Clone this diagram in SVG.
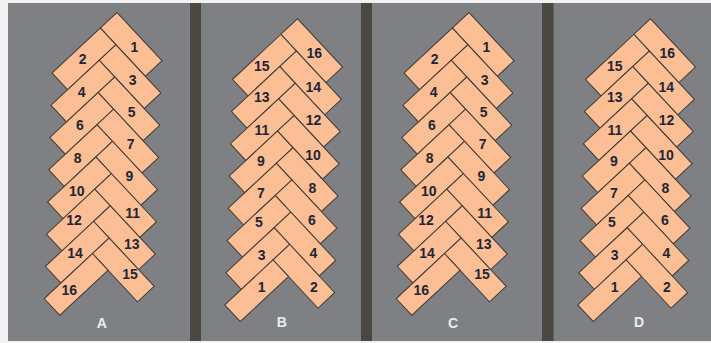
<svg xmlns="http://www.w3.org/2000/svg" xmlns:xlink="http://www.w3.org/1999/xlink" width="711" height="343" viewBox="0 0 711 343">
<style>
.bg{fill:#f2f2f2}
.panel{fill:#7f8083}
.div{fill:#4b4741}
.brick{fill:#fcbe94;stroke:#3f3b37;stroke-width:1}
.n{font-family:"Liberation Sans",Arial,sans-serif;font-weight:bold;font-size:14px;fill:#1f2635;text-anchor:middle}
.cap{font-family:"Liberation Sans",Arial,sans-serif;font-weight:bold;font-size:14px;fill:#e8eef4;text-anchor:middle}
</style>
<defs>
<rect id="br" class="brick" width="66" height="22.8"/>
<rect id="bl" class="brick" width="22.8" height="66"/>
</defs>
<rect class="bg" x="0" y="0" width="711" height="343"/>
<rect class="panel" x="8" y="3" width="703" height="338"/>
<rect class="div" x="190" y="3" width="11" height="338"/>
<rect class="div" x="361" y="3" width="11" height="338"/>
<rect class="div" x="542" y="3" width="11.5" height="338"/>

<g id="panel-A" transform="translate(117,12.5)">
<g id="A-1"><use href="#br" transform="translate(0,0) rotate(47)"/><text class="n" x="17.3" y="39.8">1</text></g>
<g id="A-2"><use href="#bl" transform="translate(-16.67,15.55) rotate(47)"/><text class="n" x="-34.3" y="51.5">2</text></g>
<g id="A-3"><use href="#br" transform="translate(-1.12,32.22) rotate(47)"/><text class="n" x="15.7" y="72.5">3</text></g>
<g id="A-4"><use href="#bl" transform="translate(-17.79,47.77) rotate(47)"/><text class="n" x="-35.3" y="84.2">4</text></g>
<g id="A-5"><use href="#br" transform="translate(-2.24,64.44) rotate(47)"/><text class="n" x="14.7" y="104">5</text></g>
<g id="A-6"><use href="#bl" transform="translate(-18.91,79.99) rotate(47)"/><text class="n" x="-37" y="117.5">6</text></g>
<g id="A-7"><use href="#br" transform="translate(-3.36,96.66) rotate(47)"/><text class="n" x="13.7" y="136.5">7</text></g>
<g id="A-8"><use href="#bl" transform="translate(-20.03,112.21) rotate(47)"/><text class="n" x="-39.3" y="150.5">8</text></g>
<g id="A-9"><use href="#br" transform="translate(-4.48,128.88) rotate(47)"/><text class="n" x="12.3" y="168.5">9</text></g>
<g id="A-10"><use href="#bl" transform="translate(-21.15,144.43) rotate(47)"/><text class="n" x="-40.3" y="183.2">10</text></g>
<g id="A-11"><use href="#br" transform="translate(-5.6,161.1) rotate(47)"/><text class="n" x="15.7" y="205">11</text></g>
<g id="A-12"><use href="#bl" transform="translate(-22.27,176.65) rotate(47)"/><text class="n" x="-43" y="212.5">12</text></g>
<g id="A-13"><use href="#br" transform="translate(-6.72,193.32) rotate(47)"/><text class="n" x="14.7" y="236.5">13</text></g>
<g id="A-14"><use href="#bl" transform="translate(-23.39,208.87) rotate(47)"/><text class="n" x="-42" y="245">14</text></g>
<g id="A-15"><use href="#br" transform="translate(-7.84,225.54) rotate(47)"/><text class="n" x="13" y="266.5">15</text></g>
<g id="A-16"><use href="#bl" transform="translate(-24.51,241.09) rotate(47)"/><text class="n" x="-47.7" y="282.5">16</text></g>
</g>

<g id="panel-B" transform="translate(297.5,18.8)">
<g id="B-16"><use href="#br" transform="translate(0,0) rotate(47)"/><text class="n" x="16.8" y="39.5">16</text></g>
<g id="B-15"><use href="#bl" transform="translate(-16.67,15.55) rotate(47)"/><text class="n" x="-35.8" y="52.2">15</text></g>
<g id="B-14"><use href="#br" transform="translate(-1.12,32.22) rotate(47)"/><text class="n" x="15.8" y="73.5">14</text></g>
<g id="B-13"><use href="#bl" transform="translate(-17.79,47.77) rotate(47)"/><text class="n" x="-35.8" y="82.9">13</text></g>
<g id="B-12"><use href="#br" transform="translate(-2.24,64.44) rotate(47)"/><text class="n" x="16" y="106.2">12</text></g>
<g id="B-11"><use href="#bl" transform="translate(-18.91,79.99) rotate(47)"/><text class="n" x="-35.5" y="116.2">11</text></g>
<g id="B-10"><use href="#br" transform="translate(-3.36,96.66) rotate(47)"/><text class="n" x="15.5" y="141.2">10</text></g>
<g id="B-9"><use href="#bl" transform="translate(-20.03,112.21) rotate(47)"/><text class="n" x="-36.5" y="147.2">9</text></g>
<g id="B-8"><use href="#br" transform="translate(-4.48,128.88) rotate(47)"/><text class="n" x="15" y="174.2">8</text></g>
<g id="B-7"><use href="#bl" transform="translate(-21.15,144.43) rotate(47)"/><text class="n" x="-36.5" y="179.2">7</text></g>
<g id="B-6"><use href="#br" transform="translate(-5.6,161.1) rotate(47)"/><text class="n" x="14.5" y="206.2">6</text></g>
<g id="B-5"><use href="#bl" transform="translate(-22.27,176.65) rotate(47)"/><text class="n" x="-38.5" y="208.2">5</text></g>
<g id="B-4"><use href="#br" transform="translate(-6.72,193.32) rotate(47)"/><text class="n" x="15.8" y="239.5">4</text></g>
<g id="B-3"><use href="#bl" transform="translate(-23.39,208.87) rotate(47)"/><text class="n" x="-35.8" y="241.2">3</text></g>
<g id="B-2"><use href="#br" transform="translate(-7.84,225.54) rotate(47)"/><text class="n" x="16.5" y="273.5">2</text></g>
<g id="B-1"><use href="#bl" transform="translate(-24.51,241.09) rotate(47)"/><text class="n" x="-35.8" y="272.9">1</text></g>
</g>

<g id="panel-C" transform="translate(469,12.5)">
<g id="C-1"><use href="#br" transform="translate(0,0) rotate(47)"/><text class="n" x="17.3" y="39.8">1</text></g>
<g id="C-2"><use href="#bl" transform="translate(-16.67,15.55) rotate(47)"/><text class="n" x="-34.3" y="51.5">2</text></g>
<g id="C-3"><use href="#br" transform="translate(-1.12,32.22) rotate(47)"/><text class="n" x="15.7" y="72.5">3</text></g>
<g id="C-4"><use href="#bl" transform="translate(-17.79,47.77) rotate(47)"/><text class="n" x="-35.3" y="84.2">4</text></g>
<g id="C-5"><use href="#br" transform="translate(-2.24,64.44) rotate(47)"/><text class="n" x="14.7" y="104">5</text></g>
<g id="C-6"><use href="#bl" transform="translate(-18.91,79.99) rotate(47)"/><text class="n" x="-37" y="117.5">6</text></g>
<g id="C-7"><use href="#br" transform="translate(-3.36,96.66) rotate(47)"/><text class="n" x="13.7" y="136.5">7</text></g>
<g id="C-8"><use href="#bl" transform="translate(-20.03,112.21) rotate(47)"/><text class="n" x="-39.3" y="150.5">8</text></g>
<g id="C-9"><use href="#br" transform="translate(-4.48,128.88) rotate(47)"/><text class="n" x="12.3" y="168.5">9</text></g>
<g id="C-10"><use href="#bl" transform="translate(-21.15,144.43) rotate(47)"/><text class="n" x="-40.3" y="183.2">10</text></g>
<g id="C-11"><use href="#br" transform="translate(-5.6,161.1) rotate(47)"/><text class="n" x="15.7" y="205">11</text></g>
<g id="C-12"><use href="#bl" transform="translate(-22.27,176.65) rotate(47)"/><text class="n" x="-43" y="212.5">12</text></g>
<g id="C-13"><use href="#br" transform="translate(-6.72,193.32) rotate(47)"/><text class="n" x="14.7" y="236.5">13</text></g>
<g id="C-14"><use href="#bl" transform="translate(-23.39,208.87) rotate(47)"/><text class="n" x="-42" y="245">14</text></g>
<g id="C-15"><use href="#br" transform="translate(-7.84,225.54) rotate(47)"/><text class="n" x="13" y="266.5">15</text></g>
<g id="C-16"><use href="#bl" transform="translate(-24.51,241.09) rotate(47)"/><text class="n" x="-47.7" y="282.5">16</text></g>
</g>

<g id="panel-D" transform="translate(650.5,18.8)">
<g id="D-16"><use href="#br" transform="translate(0,0) rotate(47)"/><text class="n" x="16.8" y="39.5">16</text></g>
<g id="D-15"><use href="#bl" transform="translate(-16.67,15.55) rotate(47)"/><text class="n" x="-35.8" y="52.2">15</text></g>
<g id="D-14"><use href="#br" transform="translate(-1.12,32.22) rotate(47)"/><text class="n" x="15.8" y="73.5">14</text></g>
<g id="D-13"><use href="#bl" transform="translate(-17.79,47.77) rotate(47)"/><text class="n" x="-35.8" y="82.9">13</text></g>
<g id="D-12"><use href="#br" transform="translate(-2.24,64.44) rotate(47)"/><text class="n" x="16" y="106.2">12</text></g>
<g id="D-11"><use href="#bl" transform="translate(-18.91,79.99) rotate(47)"/><text class="n" x="-35.5" y="116.2">11</text></g>
<g id="D-10"><use href="#br" transform="translate(-3.36,96.66) rotate(47)"/><text class="n" x="15.5" y="141.2">10</text></g>
<g id="D-9"><use href="#bl" transform="translate(-20.03,112.21) rotate(47)"/><text class="n" x="-36.5" y="147.2">9</text></g>
<g id="D-8"><use href="#br" transform="translate(-4.48,128.88) rotate(47)"/><text class="n" x="15" y="174.2">8</text></g>
<g id="D-7"><use href="#bl" transform="translate(-21.15,144.43) rotate(47)"/><text class="n" x="-36.5" y="179.2">7</text></g>
<g id="D-6"><use href="#br" transform="translate(-5.6,161.1) rotate(47)"/><text class="n" x="14.5" y="206.2">6</text></g>
<g id="D-5"><use href="#bl" transform="translate(-22.27,176.65) rotate(47)"/><text class="n" x="-38.5" y="208.2">5</text></g>
<g id="D-4"><use href="#br" transform="translate(-6.72,193.32) rotate(47)"/><text class="n" x="15.8" y="239.5">4</text></g>
<g id="D-3"><use href="#bl" transform="translate(-23.39,208.87) rotate(47)"/><text class="n" x="-35.8" y="241.2">3</text></g>
<g id="D-2"><use href="#br" transform="translate(-7.84,225.54) rotate(47)"/><text class="n" x="16.5" y="273.5">2</text></g>
<g id="D-1"><use href="#bl" transform="translate(-24.51,241.09) rotate(47)"/><text class="n" x="-35.8" y="272.9">1</text></g>
</g>

<g id="captions">
<text class="cap" x="101.7" y="328">A</text>
<text class="cap" x="281.7" y="327">B</text>
<text class="cap" x="453" y="328">C</text>
<text class="cap" x="639" y="327">D</text>
</g>
<g id="connectors"></g>
</svg>
